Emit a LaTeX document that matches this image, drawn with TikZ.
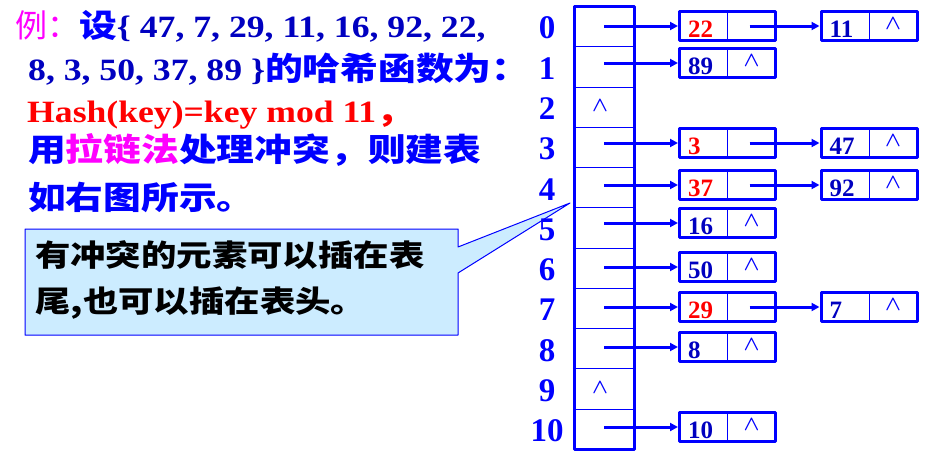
\documentclass[tikz,border=0pt]{standalone}
\usepackage{fontspec}
\usepackage{amsmath}
\setmainfont{Liberation Serif}
\newfontfamily\lat[FakeStretch=1.15]{Liberation Serif}
\newfontfamily\cjk[FakeStretch=1.18]{Noto Sans CJK SC}
\newfontfamily\cjkr{Noto Sans CJK SC}
\usetikzlibrary{arrows.meta}

\newcommand{\latb}{\lat\bfseries\fontsize{31}{33}\selectfont}
\newcommand{\cjkb}{\cjk\bfseries\fontsize{32}{34}\selectfont}

\begin{document}
\begin{tikzpicture}[
    x=1pt, y=-1pt,
    line join=round,
    txtline/.style={anchor=base west, inner sep=0pt},
    cell/.style={draw=tblue, line width=1pt, minimum width=59pt, minimum height=40.27pt, inner sep=0pt},
    idx/.style={text=tblue, inner sep=0pt, font=\bfseries\fontsize{33}{33}\selectfont},
    lnode/.style={draw=tblue, line width=3pt, minimum width=96pt, minimum height=29pt, inner sep=0pt},
    val/.style={anchor=base west, inner sep=0pt, font=\bfseries\fontsize{25}{25}\selectfont},
    nil/.style={text=tblue, inner sep=0pt, font=\fontsize{22}{22}\selectfont},
    ptr/.style={draw=tblue, line width=3pt, -{Triangle[length=8pt,width=8pt]}}
]

% Colors
\definecolor{tblue}{RGB}{0,0,255}
\definecolor{dblue}{RGB}{0,0,192}
\definecolor{pink}{RGB}{255,0,255}
\definecolor{tipfill}{RGB}{204,236,255}

\useasboundingbox (0,0) rectangle (940,469);

% ----------------------------------------------------
% Text on the left
% ----------------------------------------------------
\node[txtline] (l1) at (15,37) {{\cjkr\fontsize{32}{34}\selectfont\color{pink}例：}{\cjkb\color{tblue}设}{\latb\color{dblue}\{ 47, 7, 29, 11, 16, 92, 22,}};
\node[txtline] (l2) at (28,80) {{\latb\color{dblue}8, 3, 50, 37, 89 \}}{\cjkb\color{tblue}的哈希函数为：}};
\node[txtline] (l3) at (27,122) {{\latb\color{red}Hash(key)=key mod 11}{\cjkb\color{red}，}};
\node[txtline] (l4) at (28,161) {\cjkb\color{tblue}用{\color{pink}拉链法}处理冲突，则建表};
\node[txtline] (l5) at (28,209) {\cjkb\color{tblue}如右图所示。};

% ----------------------------------------------------
% Callout
% ----------------------------------------------------
\path[fill=tipfill, draw=tblue, line width=1pt]
(25,229) -- (458,229) -- (458,247) -- (570,203) -- (458,273) -- (458,335) -- (25,335) -- cycle;

\node[txtline] (t1) at (35,266) {\cjk\bfseries\fontsize{30}{32}\selectfont 有冲突的元素可以插在表};
\node[txtline] (t2) at (35,312) {\cjk\bfseries\fontsize{30}{32}\selectfont 尾,也可以插在表头。};

% ----------------------------------------------------
% Hash table
% ----------------------------------------------------
\foreach \i in {0,...,10} {
    \node[cell] (c\i) at (604,{6.5+40.27*(\i+0.5)}) {};
    \node[idx] (i\i) at (547,{8+40.27*(\i+0.5)}) {\i};
}
\draw[tblue, line width=3pt] (c0.north west) rectangle (c10.south east);

\node[nil] (z2) at (600,{5.5+40.27*2.5}) {$\boldsymbol{\wedge}$};
\node[nil] (z9) at (600,{5.5+40.27*9.5}) {$\boldsymbol{\wedge}$};

% ----------------------------------------------------
% Chain nodes
% ----------------------------------------------------
\newcommand{\listnode}[6]{%
\node[lnode] (#1) at (#2,#3) {};
\draw[tblue, line width=1pt] (#1.north) -- (#1.south);
\node[val, text=#5] (#1v) at ([xshift=10pt,yshift=5pt]#1.south west) {#4};
\coordinate (#1p) at ([xshift=22pt]#1.center);
#6
}
\newcommand{\nilptr}[1]{\node[nil] (#1n) at ([xshift=24pt,yshift=2pt]#1.center) {$\boldsymbol{\wedge}$};}

\listnode{n22}{727.5}{26}{22}{red}{}
\listnode{n11}{869}{26}{11}{dblue}{\nilptr{n11}}
\listnode{n89}{727.5}{63}{89}{dblue}{\nilptr{n89}}
\listnode{n3}{727.5}{143}{3}{red}{}
\listnode{n47}{869}{143}{47}{dblue}{\nilptr{n47}}
\listnode{n37}{727.5}{185}{37}{red}{}
\listnode{n92}{869}{185}{92}{dblue}{\nilptr{n92}}
\listnode{n16}{727.5}{223}{16}{dblue}{\nilptr{n16}}
\listnode{n50}{727.5}{267}{50}{dblue}{\nilptr{n50}}
\listnode{n29}{727.5}{307}{29}{red}{}
\listnode{n7}{869}{307}{7}{dblue}{\nilptr{n7}}
\listnode{n8}{727.5}{347}{8}{dblue}{\nilptr{n8}}
\listnode{n10}{727.5}{427}{10}{dblue}{\nilptr{n10}}

% ----------------------------------------------------
% Pointers
% ----------------------------------------------------
\draw[ptr] (c0 |- n22) -- (n22);
\draw[ptr] (c1 |- n89) -- (n89);
\draw[ptr] (c3 |- n3) -- (n3);
\draw[ptr] (c4 |- n37) -- (n37);
\draw[ptr] (c5 |- n16) -- (n16);
\draw[ptr] (c6 |- n50) -- (n50);
\draw[ptr] (c7 |- n29) -- (n29);
\draw[ptr] (c8 |- n8) -- (n8);
\draw[ptr] (c10 |- n10) -- (n10);

\draw[ptr] (n22p) -- (n11);
\draw[ptr] (n3p) -- (n47);
\draw[ptr] (n37p) -- (n92);
\draw[ptr] (n29p) -- (n7);

\end{tikzpicture}
\end{document}
